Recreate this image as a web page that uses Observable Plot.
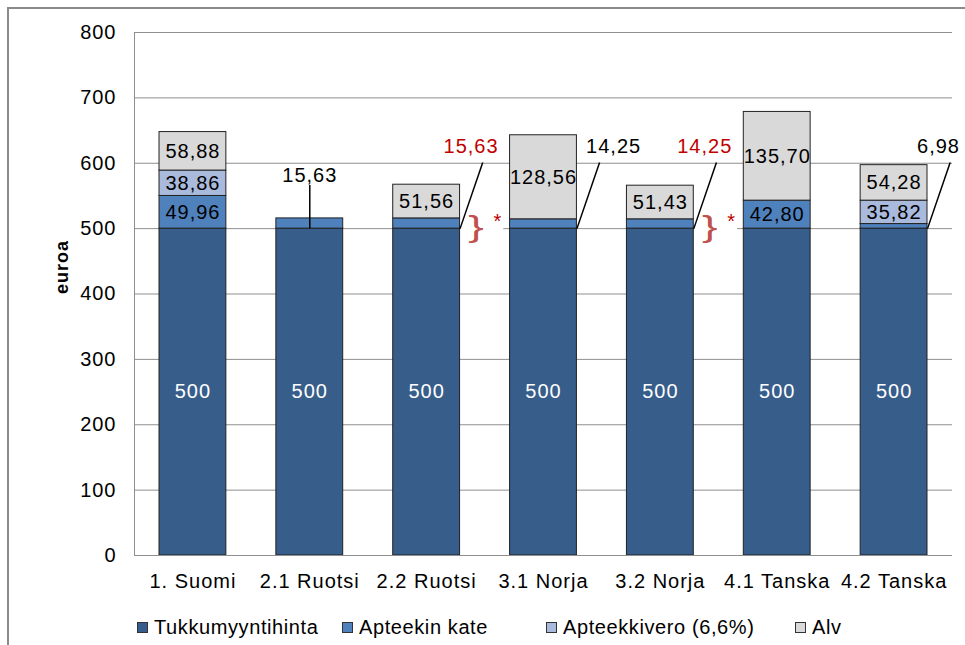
<!DOCTYPE html>
<html>
<head>
<meta charset="utf-8">
<script src="https://cdn.jsdelivr.net/npm/d3@7"></script>
<script src="https://cdn.jsdelivr.net/npm/@observablehq/plot@0.6"></script>
<style>
  html, body { margin: 0; padding: 0; background: #fff; overflow: hidden; }
  body { width: 965px; height: 645px; position: relative; font-family: "Liberation Sans", Arial, sans-serif; }
  #frame { position: absolute; left: 7px; top: 7px; width: 1000px; height: 700px; border-left: 2px solid #8a8a8a; border-top: 2px solid #8a8a8a; }
  #chart { position: absolute; left: 0; top: 0; }
  #legend { position: absolute; left: 0; top: 614px; width: 965px; height: 26px; }
  .item { position: absolute; top: 0; height: 26px; display: flex; align-items: center; font-size: 20px; letter-spacing: 0.6px; color: #000; white-space: nowrap; }
  .sw { width: 9px; height: 9px; border: 1px solid #333; margin-right: 6px; }
</style>
</head>
<body>
<div id="frame"></div>
<div id="chart"></div>
<div id="legend"></div>
<script>
// ---- data ----
const categories = ["1. Suomi", "2.1 Ruotsi", "2.2 Ruotsi", "3.1 Norja", "3.2 Norja", "4.1 Tanska", "4.2 Tanska"];
const series = ["Tukkumyyntihinta", "Apteekin kate", "Apteekkivero (6,6%)", "Alv"];
const tukku = [500, 500, 500, 500, 500, 500, 500];
const kate  = [49.96, 15.63, 15.63, 14.25, 14.25, 42.80, 6.98];
const vero  = [38.86, 0, 0, 0, 0, 0, 35.82];
const alv   = [58.88, 0, 51.56, 128.56, 51.43, 135.70, 54.28];
const yTicks = [0, 100, 200, 300, 400, 500, 600, 700, 800];
const asterisked = ["2.2 Ruotsi", "3.2 Norja"];
const colors = ["#375D8B", "#4F81BD", "#A9BADC", "#D9D9D9"];

// ---- build stacked rows ----
const valuesBySeries = [tukku, kate, vero, alv];
const rows = [];
categories.forEach((c, i) => {
  let acc = 0;
  valuesBySeries.forEach((arr, s) => {
    const v = arr[i];
    if (v > 0) rows.push({cat: c, i, s, series: series[s], value: v, y1: acc, y2: acc + v});
    acc += v;
  });
});
const fmt = (d) => d.s === 0 ? d3.format("d")(d.value) : d3.format(".2f")(d.value).replace(".", ",");
const labelRows = rows.filter(d => d.value >= 30);

const barHalf = 0.286;
const callouts = categories.map((c, i) => ({cat: c, i, value: kate[i], hasTop: alv[i] + vero[i] > 0}))
  .filter(d => d.value < 30);
const vertical = callouts.filter(d => !d.hasTop);
const slanted = callouts.filter(d => d.hasTop);
const isRed = (d) => asterisked.includes(d.cat);
const kateFmt = (d) => d3.format(".2f")(d.value).replace(".", ",");
const starRows = categories.map((c, i) => ({cat: c, i})).filter(d => asterisked.includes(d.cat));

const chart = Plot.plot({
  width: 965,
  height: 595,
  marginLeft: 134,
  marginRight: 13,
  marginTop: 32,
  marginBottom: 40,
  style: {fontFamily: "'Liberation Sans', Arial, sans-serif", fontSize: "20px", letterSpacing: "1px", color: "#000", background: "transparent"},
  x: {domain: [-0.5, categories.length - 0.5], axis: null},
  y: {domain: [0, 800], axis: null},
  marks: [
    Plot.ruleY(yTicks, {stroke: "#8f8f8f", strokeWidth: 1}),
    Plot.ruleX([-0.5], {stroke: "#8f8f8f", strokeWidth: 1}),
    Plot.rect(starRows, {x1: d => d.i + barHalf + 0.01, x2: d => d.i + 0.66, y1: d => tukku[d.i] - 12, y2: d => tukku[d.i] + 12, fill: "white"}),
    Plot.rect(rows, {
      x1: d => d.i - barHalf, x2: d => d.i + barHalf,
      y1: "y1", y2: "y2",
      fill: d => colors[d.s],
      stroke: "#222", strokeWidth: 1
    }),
    Plot.text(labelRows, {
      x: "i", y: d => (d.y1 + d.y2) / 2,
      text: fmt,
      fill: d => d.s === 0 ? "white" : "black",
      fontSize: 20
    }),
    Plot.ruleX(vertical, {x: "i", y1: d => tukku[d.i], y2: d => tukku[d.i] + 66, stroke: "black", strokeWidth: 1.5}),
    Plot.text(vertical, {x: "i", y: d => tukku[d.i] + 81, text: kateFmt, fill: d => isRed(d) ? "#C00000" : "black", fontSize: 20}),
    Plot.link(slanted, {
      x1: d => d.i + barHalf, y1: d => tukku[d.i],
      x2: d => d.i + 0.48, y2: d => tukku[d.i] + 101,
      stroke: "black", strokeWidth: 1.5
    }),
    Plot.text(slanted, {
      x: d => d.i + 0.48 + (d.cat === "3.1 Norja" ? 0.12 : -0.1),
      y: d => tukku[d.i] + 125,
      text: kateFmt,
      fill: d => isRed(d) ? "#C00000" : "black",
      fontSize: 20
    }),
    Plot.text(starRows, {x: d => d.i + 0.43, y: d => tukku[d.i] + 2, text: () => "}", fill: "#C0504D", fontSize: 29}),
    Plot.text(starRows, {x: d => d.i + 0.61, y: d => tukku[d.i] + 11, text: () => "*", fill: "#C00000", fontSize: 20}),
    Plot.axisY({ticks: yTicks, tickSize: 0, tickPadding: 18, fontSize: 20, label: null}),
    Plot.axisX({ticks: d3.range(categories.length), tickFormat: i => categories[i], tickSize: 0, tickPadding: 18, fontSize: 20, label: null}),
    Plot.ruleY([0], {stroke: "#8f8f8f", strokeWidth: 1}),
    Plot.text(["euroa"], {frameAnchor: "left", rotate: -90, dx: -72, text: d => d, fontWeight: "bold", fontSize: 18})
  ]
});
document.getElementById("chart").appendChild(chart);

// widen the brace glyphs horizontally around their own centre
chart.querySelectorAll("text").forEach(el => {
  if (el.textContent === "}") {
    const b = el.getBBox();
    const cx = b.x + b.width / 2, cy = b.y + b.height / 2;
    const t = el.getAttribute("transform") || "";
    el.setAttribute("transform", `${t} translate(${cx},${cy}) scale(1.6,1) translate(${-cx},${-cy})`);
  }
});

// ---- legend ----
const legendLeft = [137, 342, 546, 795];
const legend = document.getElementById("legend");
series.forEach((s, k) => {
  const item = document.createElement("div");
  item.className = "item";
  item.style.left = legendLeft[k] + "px";
  const sw = document.createElement("span");
  sw.className = "sw";
  sw.style.background = colors[k];
  item.appendChild(sw);
  const t = document.createElement("span");
  t.textContent = s;
  item.appendChild(t);
  legend.appendChild(item);
});
</script>
</body>
</html>
